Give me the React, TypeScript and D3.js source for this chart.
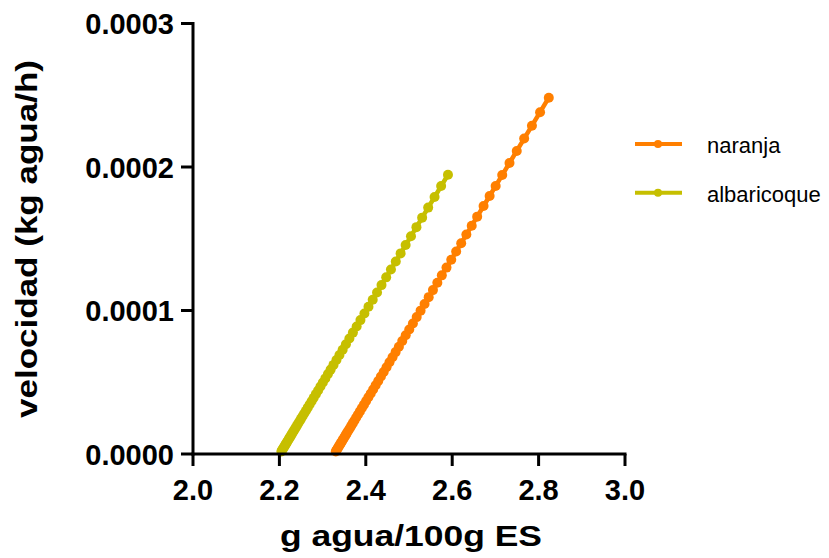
import React from "react";
import * as d3 from "d3";

// x: g agua/100g ES, y: velocidad (kg agua/h)
const naranjaX = [
  2.8236, 2.8034, 2.7846, 2.7666, 2.7494, 2.7326, 2.7158, 2.7006, 2.6866, 2.6726,
  2.6578, 2.6452, 2.6328, 2.6208, 2.6092, 2.5978, 2.5868, 2.576, 2.5656, 2.5554,
  2.5456, 2.536, 2.5268, 2.5178, 2.509, 2.5006, 2.4924, 2.4844, 2.4766, 2.469,
  2.4618, 2.4548, 2.448, 2.4414, 2.435, 2.4288, 2.4228, 2.417, 2.4114, 2.406,
  2.4008, 2.3958, 2.391, 2.3864, 2.382, 2.3778, 2.3738, 2.37, 2.3664, 2.363,
  2.3598, 2.3568, 2.354, 2.3514, 2.349, 2.3468, 2.3448, 2.3428, 2.3408, 2.3388,
  2.3368, 2.335, 2.3332, 2.3318, 2.3306,
];
const naranjaY = [
  2.483e-4, 2.382e-4, 2.288e-4, 2.198e-4, 2.112e-4, 2.028e-4, 1.944e-4, 1.868e-4, 1.798e-4, 1.728e-4,
  1.654e-4, 1.591e-4, 1.529e-4, 1.469e-4, 1.411e-4, 1.354e-4, 1.299e-4, 1.245e-4, 1.193e-4, 1.142e-4,
  1.093e-4, 1.045e-4, 0.999e-4, 0.954e-4, 0.91e-4, 0.868e-4, 0.827e-4, 0.787e-4, 0.748e-4, 0.71e-4,
  0.674e-4, 0.639e-4, 0.605e-4, 0.572e-4, 0.54e-4, 0.509e-4, 0.479e-4, 0.45e-4, 0.422e-4, 0.395e-4,
  0.369e-4, 0.344e-4, 0.32e-4, 0.297e-4, 0.275e-4, 0.254e-4, 0.234e-4, 0.215e-4, 0.197e-4, 0.18e-4,
  0.164e-4, 0.149e-4, 0.135e-4, 0.122e-4, 0.11e-4, 0.099e-4, 0.089e-4, 0.079e-4, 0.069e-4, 0.059e-4,
  0.049e-4, 0.04e-4, 0.031e-4, 0.024e-4, 0.018e-4,
];
const albaricoqueX = [
  2.5902, 2.5744, 2.5592, 2.5444, 2.5304, 2.5172, 2.5046, 2.4922, 2.4806, 2.4694,
  2.4582, 2.4472, 2.4364, 2.426, 2.416, 2.4062, 2.3968, 2.3876, 2.3788, 2.3702,
  2.362, 2.354, 2.3464, 2.339, 2.332, 2.3252, 2.3186, 2.3124, 2.3064, 2.3006,
  2.295, 2.2896, 2.2844, 2.2794, 2.2746, 2.27, 2.2656, 2.2614, 2.2574, 2.2536,
  2.25, 2.2466, 2.2434, 2.2404, 2.2376, 2.235, 2.2326, 2.2302, 2.228, 2.2258,
  2.2238, 2.2218, 2.2198, 2.2178, 2.2158, 2.214, 2.2122, 2.2104, 2.2088, 2.2072,
  2.2058, 2.2046,
];
const albaricoqueY = [
  1.946e-4, 1.867e-4, 1.791e-4, 1.717e-4, 1.647e-4, 1.581e-4, 1.518e-4, 1.456e-4, 1.398e-4, 1.342e-4,
  1.286e-4, 1.231e-4, 1.177e-4, 1.125e-4, 1.075e-4, 1.026e-4, 0.979e-4, 0.933e-4, 0.889e-4, 0.846e-4,
  0.805e-4, 0.765e-4, 0.727e-4, 0.69e-4, 0.655e-4, 0.621e-4, 0.588e-4, 0.557e-4, 0.527e-4, 0.498e-4,
  0.47e-4, 0.443e-4, 0.417e-4, 0.392e-4, 0.368e-4, 0.345e-4, 0.323e-4, 0.302e-4, 0.282e-4, 0.263e-4,
  0.245e-4, 0.228e-4, 0.212e-4, 0.197e-4, 0.183e-4, 0.17e-4, 0.158e-4, 0.146e-4, 0.135e-4, 0.124e-4,
  0.114e-4, 0.104e-4, 0.094e-4, 0.084e-4, 0.074e-4, 0.065e-4, 0.056e-4, 0.047e-4, 0.039e-4, 0.031e-4,
  0.024e-4, 0.018e-4,
];

const xTicks = [2.0, 2.2, 2.4, 2.6, 2.8, 3.0];
const yTicks = [0, 0.0001, 0.0002, 0.0003];
const seriesNames = ["naranja", "albaricoque"];
const seriesColors = ["#FF7F00", "#C6BF00"];

export default function App() {
  const W = 829, H = 558;
  const x = d3.scaleLinear().domain([2, 3]).range([193, 625]);
  const y = d3.scaleLinear().domain([0, 0.0003]).range([454, 23.5]);

  const series = [
    { name: seriesNames[0], color: seriesColors[0], pts: naranjaX.map((v, i) => [v, naranjaY[i]] as [number, number]) },
    { name: seriesNames[1], color: seriesColors[1], pts: albaricoqueX.map((v, i) => [v, albaricoqueY[i]] as [number, number]) },
  ];
  const line = d3.line<[number, number]>().x((d) => x(d[0])).y((d) => y(d[1]));
  const font = "'Liberation Sans', Arial, sans-serif";

  return (
    <svg width={W} height={H} style={{ position: "absolute", left: 0, top: 0, background: "#fff" }} fontFamily={font}>
      {series.map((s) => (
        <g key={s.name}>
          <path d={line(s.pts) || ""} fill="none" stroke={s.color} strokeWidth={4.5} strokeLinejoin="round" />
          {s.pts.map((p, i) => (
            <circle key={i} cx={x(p[0])} cy={y(p[1])} r={5} fill={s.color} />
          ))}
        </g>
      ))}

      {/* axes */}
      <g stroke="#000" strokeWidth={3} fill="none">
        <line x1={x(2)} x2={x(2)} y1={y(0.0003) - 1.5} y2={y(0) + 1.5} />
        <line x1={x(2) - 1.5} x2={x(3) + 1.5} y1={y(0)} y2={y(0)} />
        {yTicks.map((t) => (
          <line key={t} x1={x(2) - 12} x2={x(2)} y1={y(t)} y2={y(t)} />
        ))}
        {xTicks.map((t) => (
          <line key={t} x1={x(t)} x2={x(t)} y1={y(0)} y2={y(0) + 12} />
        ))}
      </g>
      <g fontSize={29} fontWeight="bold" fill="#000">
        {yTicks.map((t) => (
          <text key={t} x={x(2) - 19} y={y(t) + 10.5} textAnchor="end">
            {d3.format(".4f")(t)}
          </text>
        ))}
        {xTicks.map((t) => (
          <text key={t} x={x(t)} y={500} textAnchor="middle">
            {d3.format(".1f")(t)}
          </text>
        ))}
      </g>
      <text x={411} y={546} textAnchor="middle" fontSize={29} fontWeight="bold" textLength={262} lengthAdjust="spacingAndGlyphs">
        g agua/100g ES
      </text>
      <text
        transform={`translate(37,239) rotate(-90)`}
        textAnchor="middle"
        fontSize={30}
        fontWeight="bold"
        textLength={358}
        lengthAdjust="spacingAndGlyphs"
      >
        velocidad (kg agua/h)
      </text>

      {/* legend */}
      {series.map((s, i) => (
        <g key={s.name} transform={`translate(0,${144 + i * 48.7})`}>
          <line x1={635} x2={682} y1={0} y2={0} stroke={s.color} strokeWidth={4} />
          <circle cx={658} cy={0} r={4} fill={s.color} />
          <text x={707} y={9} fontSize={22} fill="#000">
            {s.name}
          </text>
        </g>
      ))}
    </svg>
  );
}
